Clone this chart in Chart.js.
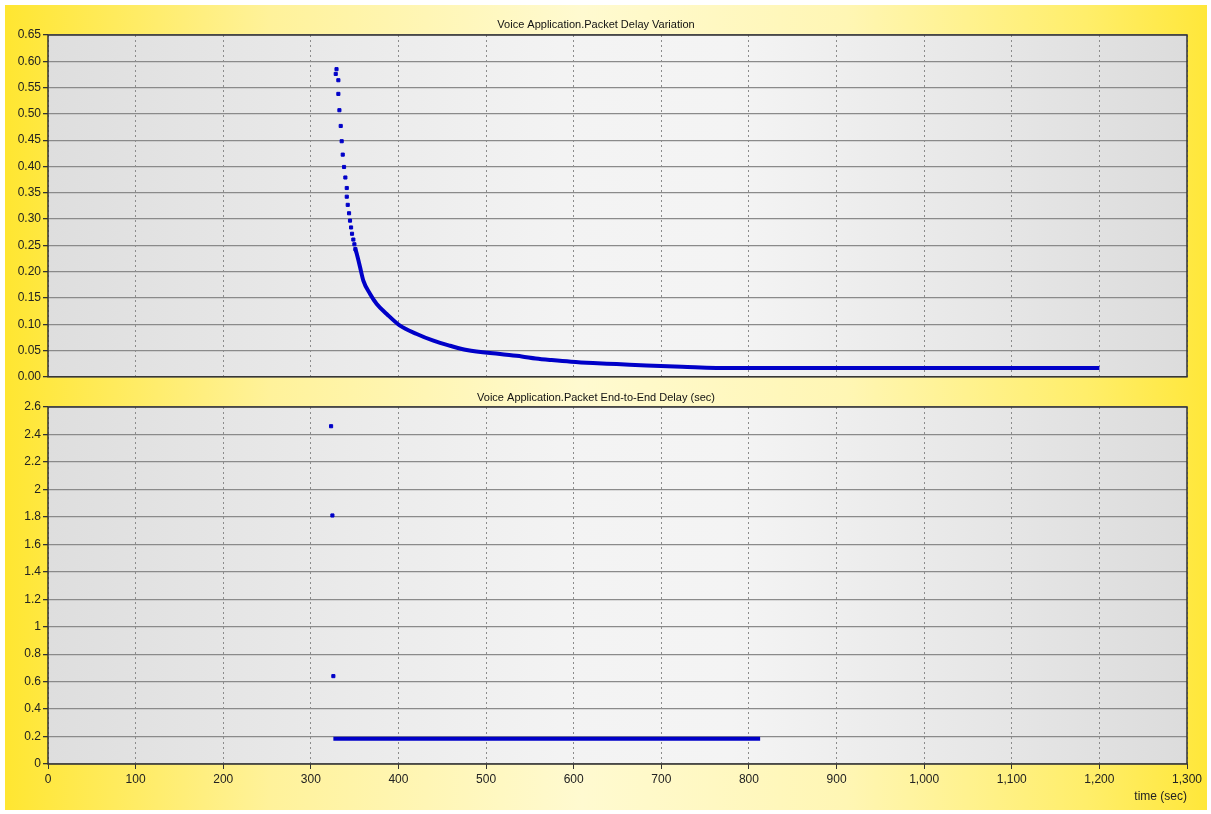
<!DOCTYPE html>
<html>
<head>
<meta charset="utf-8">
<script src="https://cdn.jsdelivr.net/npm/chart.js@4.4.1/dist/chart.umd.min.js"></script>
<style>
  html, body { margin: 0; padding: 0; background: #fff; }
  #bg {
    position: absolute; left: 5px; top: 5px; width: 1202px; height: 805px;
    background: linear-gradient(to right, #ffe631 0%, #fff29a 22%, #fffad0 48%, #fff6b4 70%, #ffee6a 90%, #ffe73a 100%);
  }
  .box { position: absolute; left: 5px; width: 1201px; }
  #top { top: 5px; height: 381px; }
  #bottom { top: 381px; height: 429px; }
</style>
</head>
<body>
<div id="bg"></div>
<div class="box" id="top"><canvas id="pdvChart"></canvas></div>
<div class="box" id="bottom"><canvas id="delayChart"></canvas></div>
<script>
// time axis (sec)
const timeTicks = [0, 100, 200, 300, 400, 500, 600, 700, 800, 900, 1000, 1100, 1200, 1300];

// Packet Delay Variation - sparse start points
const pdvDotTime = [329.3, 328.4, 331.4, 331.4, 332.6, 334.1, 335.2, 336.4, 337.9, 339.4, 341.0, 341.0, 342.1, 343.6, 344.7, 345.9, 347.0, 348.5, 349.7, 350.8];
const pdvDotValue = [0.585, 0.576, 0.564, 0.538, 0.507, 0.477, 0.448, 0.4225, 0.399, 0.379, 0.359, 0.3425, 0.327, 0.311, 0.297, 0.284, 0.272, 0.261, 0.252, 0.243];
// Packet Delay Variation - dense part (drawn as a thick trace)
const pdvLineTime = [350.8, 352.4, 356.2, 359.9, 367.6, 375.2, 386.6, 401.8, 420.9, 439.9, 458.9, 477.9, 516, 540.7, 556.6, 574.7, 597, 622, 649, 683, 723.5, 780, 1200];
const pdvLineValue = [0.243, 0.234, 0.2084, 0.183, 0.1576, 0.1386, 0.1195, 0.0972, 0.0814, 0.0686, 0.059, 0.0509, 0.0432, 0.0387, 0.0349, 0.0318, 0.0286, 0.0261, 0.0242, 0.0215, 0.0191, 0.0166, 0.0166];
const pdvTicks = [0, 0.05, 0.10, 0.15, 0.20, 0.25, 0.30, 0.35, 0.40, 0.45, 0.50, 0.55, 0.60, 0.65];

// End-to-End Delay
const delayDotTime = [323.1, 324.6, 325.7];
const delayDotValue = [2.46, 1.81, 0.64];
const delayLineTime = [325.7, 812.8];
const delayLineValue = [0.184, 0.184];
const delayTicks = [0, 0.2, 0.4, 0.6, 0.8, 1, 1.2, 1.4, 1.6, 1.8, 2, 2.2, 2.4, 2.6];

const blue = '#0000c8';
const tickFont = { family: 'Liberation Sans, Arial, sans-serif', size: 12 };

function pairs(xs, ys) {
  return xs.map((x, i) => ({ x: x, y: ys[i] }));
}

// grey plot background + dark frame
const plotFrame = {
  id: 'plotFrame',
  beforeDraw(chart) {
    const a = chart.chartArea, ctx = chart.ctx;
    const g = ctx.createLinearGradient(a.left, 0, a.right, 0);
    g.addColorStop(0, '#dedede');
    g.addColorStop(0.45, '#f3f3f3');
    g.addColorStop(0.6, '#f4f4f4');
    g.addColorStop(1, '#dcdcdc');
    ctx.save();
    ctx.fillStyle = g;
    ctx.fillRect(a.left, a.top, a.right - a.left, a.bottom - a.top);
    ctx.restore();
  },
  afterDraw(chart) {
    const a = chart.chartArea, ctx = chart.ctx;
    ctx.save();
    ctx.strokeStyle = '#333';
    ctx.lineWidth = 1.5;
    ctx.strokeRect(a.left, a.top, a.right - a.left, a.bottom - a.top);
    ctx.restore();
  }
};

function makeChart(id, opts) {
  return new Chart(document.getElementById(id).getContext('2d'), {
    type: 'scatter',
    data: {
      datasets: [{
        data: pairs(opts.dotX, opts.dotY),
        pointStyle: 'rect',
        pointRadius: 2.2,
        pointBorderWidth: 1,
        backgroundColor: blue,
        borderColor: blue,
        showLine: false
      }, {
        data: pairs(opts.lineX, opts.lineY),
        showLine: true,
        borderColor: blue,
        borderWidth: 4,
        pointRadius: 0,
        cubicInterpolationMode: 'monotone',
        borderCapStyle: 'butt'
      }]
    },
    options: {
      responsive: true,
      maintainAspectRatio: false,
      animation: false,
      layout: { padding: { left: 0, right: 19, top: 0, bottom: opts.padBottom } },
      plugins: {
        legend: { display: false },
        tooltip: { enabled: false },
        title: {
          display: true,
          text: opts.title,
          color: '#111',
          font: { family: 'Liberation Sans, Arial, sans-serif', size: 11, weight: 'normal' },
          padding: opts.titlePad
        }
      },
      scales: {
        x: {
          type: 'linear',
          min: 0,
          max: 1300,
          afterBuildTicks: s => { s.ticks = timeTicks.map(v => ({ value: v })); },
          afterFit: s => { s.height = opts.xHeight; },
          border: { display: false, dash: [2, 3] },
          grid: {
            color: '#8c8c8c',
            lineWidth: 1,
            drawTicks: opts.showX,
            tickLength: 5,
            tickColor: '#333',
            tickBorderDash: []
          },
          ticks: {
            display: opts.showX,
            color: '#222',
            font: tickFont,
            padding: 3,
            maxRotation: 0,
            autoSkip: false,
            callback: v => v.toLocaleString('en-US')
          },
          title: {
            display: opts.showX,
            text: 'time (sec)',
            align: 'end',
            color: '#222',
            font: tickFont,
            padding: { top: 4, bottom: 6 }
          }
        },
        y: {
          min: 0,
          max: opts.yMax,
          afterBuildTicks: s => { s.ticks = opts.yTicks.map(v => ({ value: v })); },
          afterFit: s => { s.width = 43; },
          border: { display: false },
          grid: {
            color: '#8a8a8a',
            lineWidth: 1.3,
            tickLength: 5,
            tickColor: '#333'
          },
          ticks: {
            color: '#222',
            font: tickFont,
            padding: 2,
            autoSkip: false,
            callback: opts.yFormat
          }
        }
      }
    },
    plugins: [plotFrame]
  });
}

makeChart('pdvChart', {
  title: 'Voice Application.Packet Delay Variation',
  titlePad: { top: 13, bottom: 3.8 },
  dotX: pdvDotTime, dotY: pdvDotValue,
  lineX: pdvLineTime, lineY: pdvLineValue,
  yMax: 0.65, yTicks: pdvTicks,
  yFormat: v => v.toFixed(2),
  showX: false, xHeight: 0, padBottom: 0
});

makeChart('delayChart', {
  title: 'Voice Application.Packet End-to-End Delay (sec)',
  titlePad: { top: 10, bottom: 2.8 },
  dotX: delayDotTime, dotY: delayDotValue,
  lineX: delayLineTime, lineY: delayLineValue,
  yMax: 2.6, yTicks: delayTicks,
  yFormat: v => String(parseFloat(v.toFixed(1))),
  showX: true, xHeight: 46, padBottom: 0
});
</script>
</body>
</html>
